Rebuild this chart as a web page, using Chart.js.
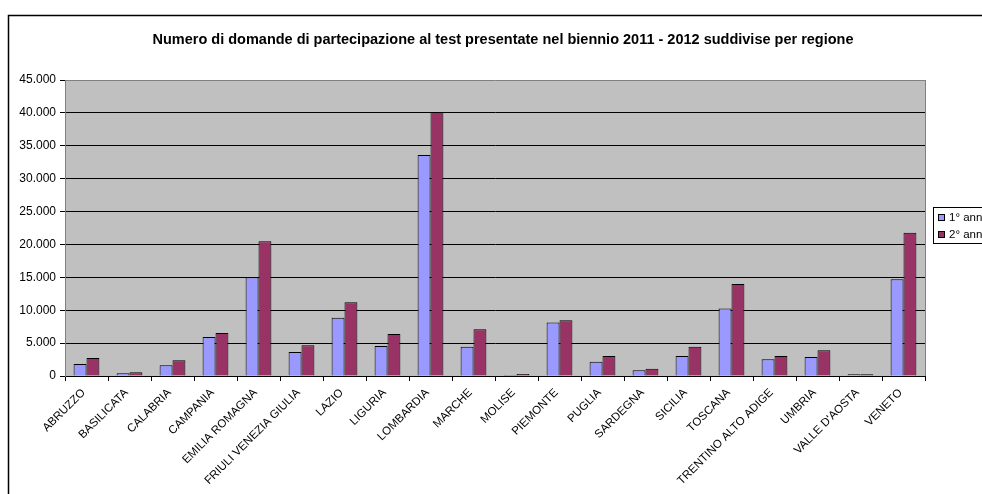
<!DOCTYPE html>
<html>
<head>
<meta charset="utf-8">
<script src="https://cdn.jsdelivr.net/npm/chart.js@4/dist/chart.umd.min.js"></script>
<style>
  body { margin: 0; background: #fff; }
  canvas { display: block; }
</style>
</head>
<body>
<canvas id="chart" width="982" height="494"></canvas>
<script>
// domande per regione, biennio 2011 - 2012
const regioni = ["ABRUZZO", "BASILICATA", "CALABRIA", "CAMPANIA", "EMILIA ROMAGNA",
    "FRIULI VENEZIA GIULIA", "LAZIO", "LIGURIA", "LOMBARDIA", "MARCHE", "MOLISE",
    "PIEMONTE", "PUGLIA", "SARDEGNA", "SICILIA", "TOSCANA", "TRENTINO ALTO ADIGE",
    "UMBRIA", "VALLE D'AOSTA", "VENETO"];
const primoAnno = [1820, 400, 1620, 5930, 15000, 3650, 8870, 4560, 33590, 4460, 150,
    8150, 2180, 860, 3040, 10280, 2530, 2890, 250, 14700];
const secondoAnno = [2730, 560, 2380, 6540, 20500, 4660, 11200, 6380, 40120, 7090, 300,
    8460, 3040, 1110, 4460, 13980, 3040, 3900, 250, 21780];
const serie = ["1° anno", "2° anno"];

const yMax = 45000;
const yStep = 5000;
const titolo = "Numero di domande di partecipazione al test presentate nel biennio 2011 - 2012 suddivise per regione";

const FONT = "'Liberation Sans', Arial, sans-serif";

// punto come separatore delle migliaia
function formatta(v) {
    return String(v).replace(/\B(?=(\d{3})+(?!\d))/g, ".");
}

const cornice = {
    id: 'cornice',
    beforeDraw(chart) {
        const ctx = chart.ctx;
        const a = chart.chartArea;
        ctx.save();
        ctx.fillStyle = '#fff';
        ctx.fillRect(0, 0, chart.width, chart.height);
        // bordo esterno
        ctx.strokeStyle = '#000';
        ctx.lineWidth = 1.5;
        ctx.strokeRect(8.5, 15.5, 1000, 600);
        // sfondo area del grafico
        ctx.fillStyle = '#c0c0c0';
        ctx.fillRect(a.left, a.top, a.right - a.left, a.bottom - a.top);
        ctx.restore();
    },
    afterDraw(chart) {
        const ctx = chart.ctx;
        const a = chart.chartArea;
        ctx.save();
        ctx.strokeStyle = '#808080';
        ctx.lineWidth = 1;
        ctx.beginPath();
        ctx.moveTo(Math.round(a.right) + 0.5, a.top);
        ctx.lineTo(Math.round(a.right) + 0.5, a.bottom);
        ctx.stroke();

        // titolo
        ctx.fillStyle = '#000';
        ctx.font = "bold 14.5px " + FONT;
        ctx.textAlign = 'center';
        ctx.textBaseline = 'middle';
        ctx.fillText(titolo, 503, 40);

        // legenda
        const lx = 933, ly = 207;
        ctx.strokeStyle = '#000';
        ctx.strokeRect(lx + 0.5, ly + 0.5, 80, 36);
        ctx.font = "11.5px " + FONT;
        ctx.textAlign = 'left';
        chart.data.datasets.forEach((ds, i) => {
            const y = ly + 10 + i * 17;
            ctx.fillStyle = ds.backgroundColor;
            ctx.fillRect(lx + 5, y - 3, 7, 7);
            ctx.strokeStyle = '#000';
            ctx.strokeRect(lx + 5.5, y - 2.5, 6, 6);
            ctx.fillStyle = '#000';
            ctx.fillText(ds.label, lx + 16, y + 1);
        });
        ctx.restore();
    }
};

const ctx = document.getElementById('chart').getContext('2d');
const myChart = new Chart(ctx, {
    type: 'bar',
    data: {
        labels: regioni,
        datasets: [{
            label: serie[0],
            data: primoAnno,
            backgroundColor: '#9999ff',
            borderColor: '#000',
            borderWidth: 1
        },
        {
            label: serie[1],
            data: secondoAnno,
            backgroundColor: '#993366',
            borderColor: '#000',
            borderWidth: 1
        }]
    },
    options: {
        responsive: false,
        animation: false,
        devicePixelRatio: 1,
        layout: { padding: { left: 0, top: 80, right: 57, bottom: 0 } },
        datasets: {
            bar: { categoryPercentage: 0.6, barPercentage: 1 }
        },
        plugins: {
            legend: { display: false },
            title: { display: false },
            tooltip: { enabled: false }
        },
        scales: {
            x: {
                afterFit(scale) { scale.height = 118; },
                grid: {
                    display: true,
                    offset: true,
                    drawOnChartArea: false,
                    tickLength: 5,
                    color: '#000'
                },
                border: { color: '#000' },
                ticks: {
                    autoSkip: false,
                    minRotation: 45,
                    maxRotation: 45,
                    color: '#000',
                    padding: 5,
                    labelOffset: -3,
                    font: { family: FONT, size: 11.5 }
                }
            },
            y: {
                min: 0,
                max: yMax,
                afterFit(scale) { scale.width = 65; },
                grid: {
                    color: c => c.tick && c.tick.value === yMax ? '#808080' : '#000',
                    tickColor: '#000',
                    tickLength: 5
                },
                border: { color: '#808080' },
                ticks: {
                    stepSize: yStep,
                    color: '#000',
                    padding: 4,
                    font: { family: FONT, size: 12 },
                    callback: function(value) {
                        return formatta(value);
                    }
                }
            }
        }
    },
    plugins: [cornice]
});
</script>
</body>
</html>
